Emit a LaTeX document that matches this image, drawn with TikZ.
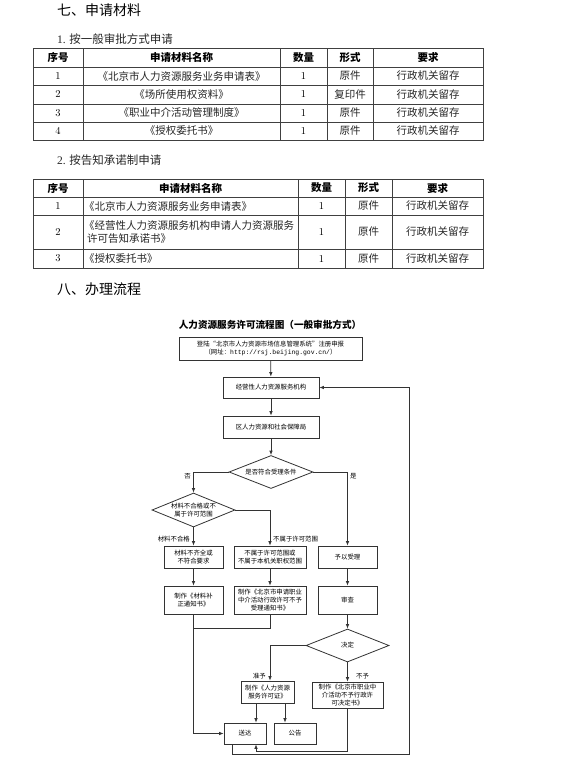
\documentclass[tikz,border=0pt]{standalone}
\usepackage{fontspec}
\newfontfamily\cjk{Noto Sans CJK SC}
\newfontfamily\monof{Liberation Mono}
\usetikzlibrary{shapes.geometric,arrows.meta,calc}
\begin{document}
\begin{tikzpicture}[x=1pt,y=-1pt,
  tline/.style={line width=0.9pt, draw=black!75},
  cell/.style={font=\cjk\fontsize{10.5}{13}\selectfont, inner sep=0, text=black!85},
  numcell/.style={font=\fontsize{10.5}{13}\selectfont, inner sep=0},
  hcell/.style={font=\cjk\bfseries\fontsize{10.5}{13}\selectfont, inner sep=0},
  heading/.style={font=\cjk\fontsize{14}{16}\selectfont, anchor=west, inner sep=0},
  subhead/.style={font=\cjk\fontsize{11.5}{14}\selectfont, anchor=west, inner sep=0, text=black!85},
  fbox/.style={draw=black!80, line width=0.8pt, rectangle, inner sep=0.5pt, align=center,
     font=\cjk\fontsize{6.4}{8.3}\selectfont},
  fdia/.style={draw=black!80, line width=0.8pt, diamond, inner sep=0, align=center, aspect=2.45,
     font=\cjk\fontsize{6.4}{8.3}\selectfont},
  lbl/.style={font=\cjk\fontsize{6.4}{8}\selectfont, inner sep=0},
  arr/.style={draw=black!80, line width=0.8pt, -{Latex[length=4.5pt,width=3.6pt]}},
  ln/.style={draw=black!80, line width=0.8pt}
]
\useasboundingbox (0,0) rectangle (568,766);
\fill[white] (0,0) rectangle (568,766);

% headings
\node[heading] (h7) at (57,10) {七、申请材料};
\node[subhead] (s1) at (57,39) {{\fontspec{Liberation Serif}1.} 按一般审批方式申请};

% table 1
\draw[tline] (33,48) rectangle (483,140);
\foreach \yy in {67,85,104,122} \draw[tline] (33,\yy) -- (483,\yy);
\foreach \xx in {83,280,327,373} \draw[tline] (\xx,48) -- (\xx,140);
\node[hcell] (t1h1) at (58,57.5) {序号};
\node[hcell] (t1h2) at (181.5,57.5) {申请材料名称};
\node[hcell] (t1h3) at (303.5,57.5) {数量};
\node[hcell] (t1h4) at (350,57.5) {形式};
\node[hcell] (t1h5) at (428,57.5) {要求};
\foreach \yy/\n/\nm/\fm in {76/1/《北京市人力资源服务业务申请表》/原件,
   94.5/2/《场所使用权资料》/复印件,
   113/3/《职业中介活动管理制度》/原件,
   131/4/《授权委托书》/原件}{
  \node[numcell] at (58,\yy) {\n};
  \node[cell] at (181.5,\yy) {\nm};
  \node[numcell] at (303.5,\yy) {1};
  \node[cell] at (350,\yy) {\fm};
  \node[cell] at (428,\yy) {行政机关留存};
}

\node[subhead] (s2) at (57,160) {{\fontspec{Liberation Serif}2.} 按告知承诺制申请};

% table 2
\draw[tline] (33,179) rectangle (483,268);
\foreach \yy in {197,215,249} \draw[tline] (33,\yy) -- (483,\yy);
\foreach \xx in {83,298,345,392} \draw[tline] (\xx,179) -- (\xx,268);
\node[hcell] (t2h1) at (58,188) {序号};
\node[hcell] (t2h2) at (190.5,188) {申请材料名称};
\node[hcell] (t2h3) at (321.5,188) {数量};
\node[hcell] (t2h4) at (368.5,188) {形式};
\node[hcell] (t2h5) at (437.5,188) {要求};
\foreach \yy/\n in {206/1,232/2,258.5/3}{
  \node[numcell] at (58,\yy) {\n};
  \node[numcell] at (321.5,\yy) {1};
  \node[cell] at (368.5,\yy) {原件};
  \node[cell] at (437.5,\yy) {行政机关留存};
}
\node[cell, anchor=west] at (84,206) {《北京市人力资源服务业务申请表》};
\node[cell, anchor=west, align=left] at (84,232) {《经营性人力资源服务机构申请人力资源服务\\\hspace*{3pt}许可告知承诺书》};
\node[cell, anchor=west] at (84,258.5) {《授权委托书》};

\node[heading] (h8) at (57,289) {八、办理流程};

% flowchart
\node[font=\cjk\bfseries\fontsize{9.6}{11}\selectfont, inner sep=0] (ft) at (270,325) {人力资源服务许可流程图（一般审批方式）};

\node[fbox, minimum width=183pt, minimum height=23pt] (b1) at (270.5,348.5)
  {登陆“北京市人力资源市场信息管理系统”注册申报\\（网址：{\monof http://rsj.beijing.gov.cn/}）};
\node[fbox, minimum width=96pt, minimum height=21pt] (b2) at (271,387.5) {经营性人力资源服务机构};
\node[fbox, minimum width=96pt, minimum height=22pt] (b3) at (271,427) {区人力资源和社会保障局};
\node[fdia, minimum width=84pt, minimum height=33pt] (d1) at (271,472) {是否符合受理条件};
\node[fdia, minimum width=83pt, minimum height=34pt] (d2) at (193.5,510) {材料不合格或不\\属于许可范围};
\node[fbox, minimum width=59pt, minimum height=22pt] (b4) at (193.5,557) {材料不齐全或\\不符合要求};
\node[fbox, minimum width=72pt, minimum height=22pt] (b5) at (270,557) {不属于许可范围或\\不属于本机关职权范围};
\node[fbox, minimum width=59pt, minimum height=22pt] (b6) at (347.5,557) {予以受理};
\node[fbox, minimum width=59pt, minimum height=28pt] (b7) at (193.5,600) {制作《材料补\\正通知书》};
\node[fbox, minimum width=72pt, minimum height=28pt] (b8) at (270,600) {制作《北京市申请职业\\中介活动行政许可不予\\受理通知书》};
\node[fbox, minimum width=59pt, minimum height=28pt] (b9) at (347.5,600) {审查};
\node[fdia, minimum width=83pt, minimum height=33pt] (d3) at (347.5,645.5) {决定};
\node[fbox, minimum width=53pt, minimum height=22pt] (b10) at (267.5,692) {制作《人力资源\\服务许可证》};
\node[fbox, minimum width=71pt, minimum height=26pt] (b11) at (347.5,695) {制作《北京市职业中\\介活动不予行政许\\可决定书》};
\node[fbox, minimum width=42pt, minimum height=21pt] (b12) at (245,733.5) {送达};
\node[fbox, minimum width=42pt, minimum height=21pt] (b13) at (295,733.5) {公告};

\coordinate (cL) at (270,0);
\coordinate (cJ) at (193.5,628);
\coordinate (cR) at (409,754);
\coordinate (cB) at (232,754);
\coordinate (cU) at (256,751);

\draw[arr] (b1) -- (b2);
\draw[arr] (b2) -- (b3);
\draw[arr] (b3) -- (d1);
\draw[arr] (d1.west) -| (d2.north);
\draw[arr] (d1.east) -| (b6.north);
\draw[arr] (d2.east) -| (cL |- b5.north);
\draw[arr] (d2.south) -- (b4.north);
\draw[arr] (b4) -- (b7);
\draw[arr] (cL |- b5.south) -- (cL |- b8.north);
\draw[arr] (b6) -- (b9);
\draw[arr] (b9) -- (d3.north);
\draw[arr] (d3.west) -| (cL |- b10.north);
\draw[arr] (d3.south) -- (b11.north);
\draw[ln] (cL |- b8.south) |- (cJ);
\draw[arr] (b7.south) |- (b12.west);
\draw[arr] ([xshift=-11.5pt]b10.south) -- ([xshift=-11.5pt]b10.south |- b12.north);
\draw[arr] ([xshift=17.5pt]b10.south) -- ([xshift=17.5pt]b10.south |- b13.north);
\draw[arr] (b11.south) |- (cU) -- (cU |- b12.south);
\draw[arr] (cB |- b12.south) -- (cB) -- (cR) |- (b2.east);

\node[lbl, anchor=north east] (lno) at (191,473.5) {否};
\node[lbl, anchor=north west] (lyes) at (350,473.5) {是};
\node[lbl, anchor=east] (lbad) at (190,539) {材料不合格};
\node[lbl, anchor=west] (lout) at (273,539) {不属于许可范围};
\node[lbl, anchor=east] (lok) at (266,676) {准予};
\node[lbl, anchor=west] (lnot) at (356,676) {不予};
\end{tikzpicture}
\end{document}
